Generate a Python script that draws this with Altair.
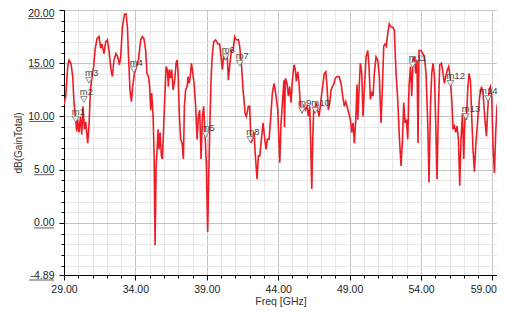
import altair as alt
import pandas as pd

freq = [
    29.00, 29.12, 29.26, 29.35, 29.49, 29.61, 29.70, 29.82, 29.89, 29.96,
    30.05, 30.15, 30.24, 30.33, 30.43, 30.52, 30.66, 30.75, 30.85, 30.99,
    31.08, 31.17, 31.31, 31.45, 31.57, 31.66, 31.80, 31.92, 32.04, 32.15,
    32.29, 32.39, 32.50, 32.64, 32.76, 32.88, 32.97, 33.09, 33.23, 33.34,
    33.44, 33.51, 33.62, 33.72, 33.81, 33.93, 34.05,
    34.21, 34.37, 34.49, 34.60, 34.72, 34.81, 34.91, 35.00, 35.07, 35.14,
    35.24, 35.31, 35.38, 35.45, 35.52, 35.59, 35.66, 35.73, 35.82, 35.89,
    35.98, 36.08, 36.15, 36.24, 36.31, 36.38, 36.45, 36.54, 36.64, 36.75,
    36.85, 36.92, 36.99, 37.08, 37.17, 37.27, 37.36, 37.43, 37.52, 37.62,
    37.69, 37.76, 37.83, 37.92, 37.99, 38.11, 38.22, 38.32, 38.41, 38.50,
    38.60, 38.69, 38.78, 38.88, 38.97, 39.06, 39.13, 39.22, 39.30, 39.37,
    39.48,
    39.62, 39.79, 39.90, 40.02, 40.09, 40.18, 40.30, 40.42, 40.51, 40.60,
    40.72, 40.84, 40.95, 41.07, 41.21, 41.30, 41.42, 41.54, 41.68, 41.77,
    41.91, 42.00, 42.10, 42.19, 42.31, 42.40, 42.52, 42.61, 42.71, 42.82,
    42.94, 43.06, 43.15, 43.24, 43.36, 43.48, 43.59, 43.71, 43.82, 43.97,
    44.11, 44.20, 44.34, 44.40, 44.44, 44.50,
    44.62, 44.71, 44.80, 44.90, 44.99, 45.11, 45.20, 45.27, 45.37, 45.46,
    45.55, 45.67, 45.79, 45.90, 46.02, 46.11, 46.21, 46.28, 46.35, 46.42,
    46.49, 46.58, 46.67, 46.77, 46.86, 46.95, 47.05, 47.14, 47.23, 47.33,
    47.42, 47.51, 47.61, 47.70, 47.79, 47.89, 48.00, 48.12, 48.26, 48.40,
    48.52, 48.63, 48.73, 48.82, 48.94, 49.05, 49.15, 49.24, 49.33, 49.43,
    49.52, 49.57, 49.66, 49.75,
    49.85, 49.94, 50.03, 50.15, 50.27, 50.36, 50.45, 50.55, 50.64, 50.73,
    50.85, 50.97, 51.08, 51.20, 51.29, 51.39, 51.48, 51.57, 51.67, 51.78,
    51.90, 52.02, 52.13, 52.25, 52.37, 52.48, 52.60, 52.70, 52.79, 52.88,
    52.98, 53.07, 53.16, 53.26, 53.35, 53.44, 53.54, 53.63, 53.72, 53.79,
    53.86, 54.00, 54.12, 54.24, 54.35, 54.47, 54.56, 54.66, 54.75, 54.84,
    54.94, 55.03, 55.12, 55.22, 55.31, 55.43, 55.54, 55.64, 55.73, 55.85,
    55.94, 56.06, 56.15, 56.24, 56.34, 56.43, 56.52, 56.62, 56.71, 56.80,
    56.90, 56.99, 57.08, 57.18, 57.27, 57.36, 57.46, 57.55, 57.64, 57.74,
    57.83, 57.92, 58.02, 58.11, 58.23, 58.34, 58.46, 58.58, 58.67, 58.77,
    58.86, 58.95, 59.04, 59.14, 59.23, 59.32, 59.42, 59.51, 59.60, 59.70,
    59.79, 59.86,
]

gain = [
    11.1, 11.9, 14.7, 15.3, 15.0, 13.75, 11.3, 9.7, 8.6, 9.7,
    8.5, 10.0, 8.3, 10.95, 8.8, 9.5, 7.5, 9.1, 12.5, 14.05,
    14.7, 16.2, 17.3, 17.5, 16.4, 16.8, 15.9, 17.0, 17.2, 16.2,
    14.4, 13.75, 15.3, 15.9, 15.6, 14.85, 15.6, 18.4, 19.6, 19.65,
    18.4, 15.9, 12.5, 11.4, 12.8, 14.05, 14.5,
    15.3, 17.2, 17.5, 17.3, 16.2, 14.05, 13.75, 12.8, 10.6, 12.2,
    10.0, 6.3, -2.1, 5.35, 6.9, 8.8, 6.9, 8.5, 6.3, 6.0,
    9.1, 12.5, 14.7, 14.4, 12.8, 14.4, 13.6, 14.4, 12.5, 13.4,
    15.0, 15.3, 14.05, 10.0, 7.85, 7.5, 6.0, 10.95, 12.5, 12.8,
    13.75, 13.1, 13.6, 15.0, 14.4, 13.1, 10.95, 7.85, 10.0, 10.6,
    6.0, 10.0, 10.95, 8.15, 5.35, -0.85, 4.1, 9.5, 13.5, 15.5,
    17.0,
    17.2, 16.8, 16.8, 15.3, 14.4, 15.9, 15.3, 16.0, 13.4, 14.7,
    16.2, 16.2, 17.5, 17.2, 17.2, 16.6, 15.0, 12.5, 10.3, 10.0,
    10.95, 10.95, 7.5, 7.85, 8.5, 6.3, 4.1, 6.3, 6.3, 7.85,
    9.4, 7.85, 6.9, 7.85, 7.85, 10.0, 12.2, 13.1, 12.2, 10.6,
    5.65, 9.4, 12.2, 13.4, 9.0, 13.6,
    13.1, 11.9, 12.8, 11.3, 13.4, 14.85, 14.4, 13.3, 14.2, 13.1,
    10.95, 10.3, 10.95, 10.6, 10.95, 10.0, 10.95, 7.2, 3.2, 7.85,
    10.95, 10.3, 11.3, 10.6, 10.0, 10.95, 12.2, 13.1, 14.05, 14.2,
    12.8, 10.6, 11.3, 12.5, 12.8, 13.0, 13.6, 13.75, 13.75, 13.1,
    11.9, 10.95, 11.4, 10.95, 10.3, 9.7, 8.5, 9.4, 7.5, 9.7,
    13.0, 9.7, 12.5, 15.0,
    14.05, 10.0, 12.5, 15.6, 16.2, 14.7, 11.6, 12.2, 11.9, 14.05,
    15.6, 15.3, 13.75, 9.4, 12.5, 16.6, 16.8, 16.6, 17.8, 18.7,
    18.4, 18.4, 18.1, 14.05, 11.6, 8.15, 5.35, 7.85, 11.3, 9.4,
    9.7, 7.85, 12.8, 14.7, 11.9, 15.3, 15.6, 14.05, 15.3, 7.5,
    16.2, 16.2, 15.9, 15.6, 14.05, 9.4, 3.8, 10.95, 14.0, 15.0,
    13.75, 9.4, 4.1, 10.95, 14.85, 15.0, 14.05, 13.1, 13.75, 14.4,
    14.7, 13.4, 11.6, 8.8, 9.1, 8.5, 9.1, 7.85, 3.5, 7.85,
    10.3, 6.0, 10.0, 9.7, 12.5, 14.05, 13.4, 10.0, 6.9, 4.8,
    7.2, 8.8, 10.6, 11.9, 12.8, 12.2, 10.0, 8.15, 10.6, 12.5,
    12.8, 11.9, 7.2, 4.7, 8.5, 10.95, 11.6, 11.3, 9.7, 7.2,
    4.7, 5.65,
]

marker_names = ["m1", "m2", "m3", "m4", "m5", "m6", "m7", "m8", "m9", "m10",
                "m11", "m12", "m13", "m14"]
marker_freq = [29.82, 30.39, 30.75, 33.88, 38.92, 40.32, 41.30, 42.05, 45.67, 46.60,
               53.42, 56.06, 57.13, 58.69]
marker_gain = [9.74, 11.6, 13.4, 14.4, 8.3, 15.6, 15.0, 7.85, 10.6, 10.6,
               14.85, 13.1, 10.0, 11.7]

y_label_values = [20, 15, 10, 5, 0, -4.89]
x_tick_values = list(range(29, 60))
y_tick_values = [-4.89] + list(range(-4, 21))

FONT = "Liberation Sans"

curve = pd.DataFrame({"freq": freq, "gain": gain})
markers = pd.DataFrame({"freq": marker_freq, "gain": marker_gain, "name": marker_names})
ylabs = pd.DataFrame({"gain": y_label_values})

x_major = "(datum.value - 29) % 5 == 0"
y_major = "datum.value % 5 == 0 || datum.value < -4.5"

x_axis = alt.Axis(
    values=x_tick_values,
    labelExpr=f"{x_major} ? format(datum.value, '.2f') : ''",
    tickSize={"condition": {"test": x_major, "value": 5}, "value": 3},
    gridColor={"condition": {"test": x_major, "value": "#c4c4c4"}, "value": "#e8e8e8"},
    labelAlign={"condition": {"test": "datum.value == 59", "value": "right"}, "value": "center"},
    labelOffset={"condition": {"test": "datum.value == 59", "value": 4}, "value": 0},
    domainColor="#000000", tickColor="#000000",
    labelFont=FONT, labelFontSize=10.5, labelColor="#222222",
    labelPadding=4, labelFlush=False, labelOverlap=False,
    title="Freq [GHz]", titleFont=FONT, titleFontSize=10.5, titleFontWeight="normal",
    titleColor="#333333", titleY=26, titleBaseline="middle",
)

y_axis = alt.Axis(
    values=y_tick_values,
    labelExpr=f"{y_major} ? replace(format(datum.value, '.2f'), '\u2212', '-') : ''",
    tickSize={"condition": {"test": y_major, "value": 5}, "value": 3},
    gridColor={"condition": {"test": y_major, "value": "#c4c4c4"}, "value": "#e8e8e8"},
    labelOffset={"condition": {"test": "datum.value == 20", "value": 3.5}, "value": 0},
    domainColor="#000000", tickColor="#000000",
    labelFont=FONT, labelFontSize=10.5, labelColor="#222222",
    labelPadding=5, labelOverlap=False, labelFlush=False,
    title="dB(GainTotal)", titleFont=FONT, titleFontSize=10, titleFontWeight="normal",
    titleColor="#333333", titleX=-46, titleY=132.5, titleAngle=270,
    titleAlign="center", titleBaseline="middle",
)

x_enc = alt.X("freq:Q", scale=alt.Scale(domain=[29, 59.32], nice=False, zero=False), axis=x_axis)
y_enc = alt.Y("gain:Q", scale=alt.Scale(domain=[-4.89, 20], nice=False, zero=False), axis=y_axis)

line = alt.Chart(curve).mark_line(color="#ee1c24", strokeWidth=1.6, clip=True).encode(
    x=x_enc, y=y_enc
)

tri = alt.Chart(markers).mark_point(
    shape="triangle-down", size=45, filled=True, fill="#eeeeee", stroke="#777777",
    strokeWidth=0.8, opacity=1
).encode(x=x_enc, y=y_enc)

txt = alt.Chart(markers).transform_filter("datum.name != 'm14'").mark_text(
    align="left", baseline="alphabetic", dx=-4, dy=-4, font=FONT, fontSize=9.5,
    color="#444444"
).encode(x=x_enc, y=y_enc, text="name:N")

txt_edge = alt.Chart(markers).transform_filter("datum.name == 'm14'").mark_text(
    align="left", baseline="alphabetic", dx=-9, dy=-4, font=FONT, fontSize=9.5,
    color="#444444"
).encode(x=x_enc, y=y_enc, text="name:N")

ul_long = alt.Chart(ylabs).transform_filter(
    "datum.gain != 20 && (datum.gain >= 10 || datum.gain < -4)"
).mark_rule(yOffset=5, color="#333333", strokeWidth=0.8, clip=False).encode(
    y=y_enc, x=alt.value(-35), x2=alt.value(-10)
)
ul_top = alt.Chart(ylabs).transform_filter("datum.gain == 20").mark_rule(
    yOffset=8.5, color="#333333", strokeWidth=0.8, clip=False
).encode(y=y_enc, x=alt.value(-36), x2=alt.value(-10))
ul_short = alt.Chart(ylabs).transform_filter(
    "datum.gain < 10 && datum.gain > -4"
).mark_rule(yOffset=5, color="#333333", strokeWidth=0.8, clip=False).encode(
    y=y_enc, x=alt.value(-30), x2=alt.value(-10)
)

chart = alt.layer(line, tri, txt, txt_edge, ul_long, ul_top, ul_short).properties(
    width=433, height=265,
    padding={"left": 56, "top": 2, "right": 0, "bottom": 32},
    autosize=alt.AutoSizeParams(type="none"),
).configure_view(strokeWidth=0).configure(background="white")

chart.save("out.html", embed_options={"renderer": "svg", "actions": False})
